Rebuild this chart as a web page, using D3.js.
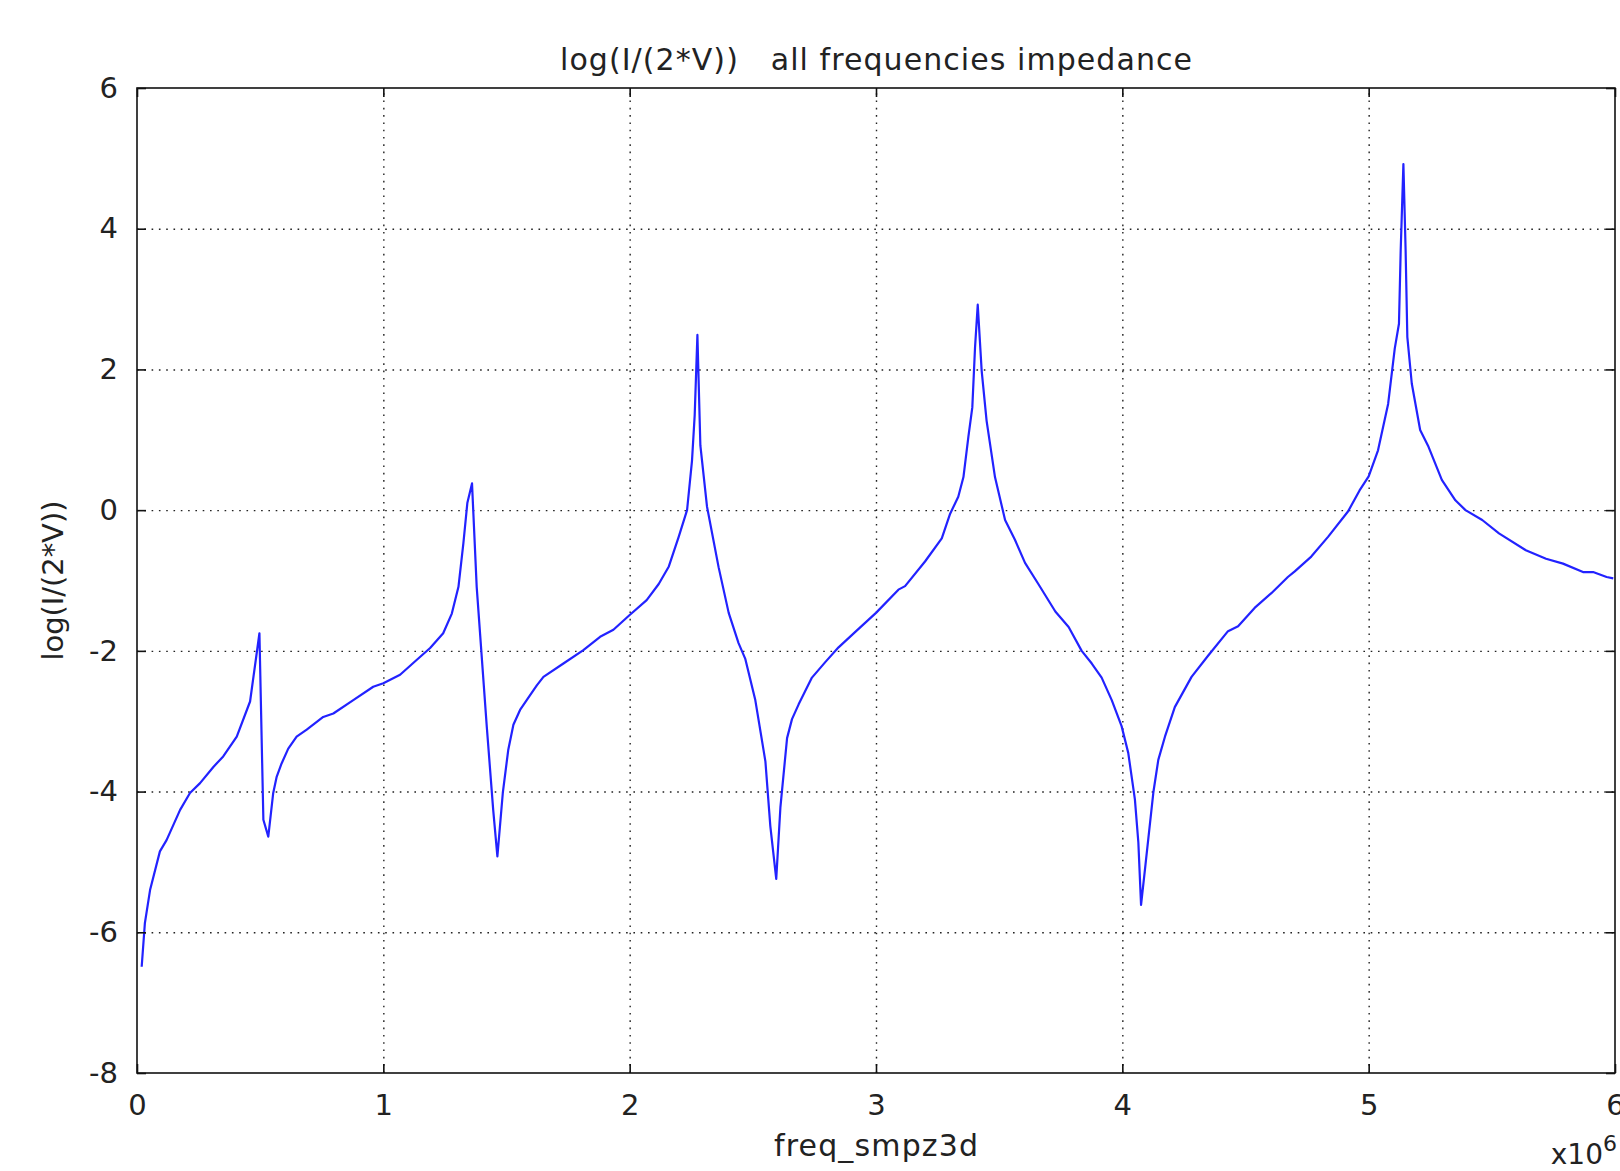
<!DOCTYPE html>
<html>
<head>
<meta charset="utf-8">
<script src="https://cdn.jsdelivr.net/npm/d3@7"></script>
<style>
  body { margin: 0; background: #fff; }
  svg { display: block; }
  text { font-family: "DejaVu Sans", Verdana, sans-serif; fill: #222; }
  .grid line { stroke: #222; stroke-width: 1.4; stroke-dasharray: 1.6, 5.7; }
  .grid path { display: none; }
  .ticks path { display: none; }
  .ticks line { stroke: #111; stroke-width: 1.6; }
</style>
</head>
<body>
<svg id="chart" width="1620" height="1171"></svg>
<script>
// frequency in units of 10^6 (freq_smpz3d)
const freq = [
  0.019, 0.032, 0.053, 0.093, 0.12, 0.175, 0.215, 0.256, 0.31, 0.35,
  0.405, 0.459, 0.497, 0.513, 0.533, 0.553, 0.567, 0.587, 0.614, 0.648,
  0.689, 0.756, 0.797, 0.878, 0.959, 1.0, 1.068, 1.135, 1.19, 1.243,
  1.278, 1.305, 1.325, 1.341, 1.36, 1.379, 1.42, 1.446, 1.463, 1.485,
  1.507, 1.528, 1.555, 1.582, 1.623, 1.65, 1.731, 1.812, 1.88, 1.934,
  2.0, 2.069, 2.118, 2.159, 2.199, 2.233, 2.253, 2.264, 2.275, 2.287,
  2.314, 2.361, 2.402, 2.442, 2.469, 2.51, 2.551, 2.571, 2.595, 2.612,
  2.639, 2.659, 2.686, 2.74, 2.794, 2.848, 2.916, 3.0, 3.091, 3.118,
  3.199, 3.267, 3.301, 3.334, 3.355, 3.375, 3.391, 3.402, 3.413, 3.429,
  3.449, 3.483, 3.524, 3.564, 3.605, 3.659, 3.728, 3.782, 3.835, 3.876,
  3.916, 3.957, 3.997, 4.024, 4.051, 4.065, 4.076, 4.094, 4.126, 4.146,
  4.173, 4.213, 4.281, 4.348, 4.429, 4.47, 4.537, 4.605, 4.672, 4.7,
  4.767, 4.835, 4.916, 4.963, 5.0, 5.038, 5.079, 5.106, 5.123, 5.13,
  5.141, 5.15, 5.157, 5.175, 5.209, 5.243, 5.297, 5.352, 5.393, 5.461,
  5.529, 5.638, 5.72, 5.789, 5.87, 5.911, 5.966, 5.993
];
const logIV = [
  -6.49, -5.87, -5.40, -4.85, -4.69, -4.26, -4.02, -3.88, -3.65, -3.50,
  -3.22, -2.72, -1.75, -4.40, -4.64, -4.02, -3.79, -3.60, -3.39, -3.22,
  -3.12, -2.94, -2.89, -2.70, -2.51, -2.46, -2.34, -2.13, -1.96, -1.75,
  -1.47, -1.09, -0.47, 0.10, 0.38, -1.09, -3.08, -4.26, -4.92, -4.02,
  -3.41, -3.05, -2.84, -2.70, -2.49, -2.37, -2.18, -1.99, -1.80, -1.70,
  -1.49, -1.28, -1.05, -0.80, -0.38, 0.0, 0.70, 1.35, 2.49, 0.92,
  0.05, -0.81, -1.46, -1.89, -2.11, -2.70, -3.57, -4.49, -5.24, -4.22,
  -3.24, -2.97, -2.76, -2.38, -2.16, -1.95, -1.73, -1.46, -1.13, -1.08,
  -0.73, -0.40, -0.05, 0.19, 0.47, 1.04, 1.46, 2.31, 2.92, 1.98,
  1.27, 0.47, -0.14, -0.42, -0.75, -1.05, -1.44, -1.66, -2.0, -2.18,
  -2.38, -2.70, -3.07, -3.45, -4.11, -4.72, -5.61, -5.04, -4.01, -3.55,
  -3.22, -2.80, -2.37, -2.07, -1.72, -1.65, -1.39, -1.18, -0.95, -0.87,
  -0.66, -0.38, -0.02, 0.28, 0.48, 0.85, 1.51, 2.30, 2.65, 3.69,
  4.92, 3.69, 2.46, 1.80, 1.14, 0.90, 0.43, 0.14, 0.0, -0.14,
  -0.33, -0.57, -0.69, -0.76, -0.88, -0.88, -0.95, -0.97
];
const xTicks = [0, 1, 2, 3, 4, 5, 6];
const yTicks = [-8, -6, -4, -2, 0, 2, 4, 6];

const svg = d3.select("#chart");
const pLeft = 137, pRight = 1615, pTop = 88, pBottom = 1073;
const w = pRight - pLeft, h = pBottom - pTop;

const x = d3.scaleLinear().domain([0, 6]).range([pLeft, pRight]);
const y = d3.scaleLinear().domain([-8, 6]).range([pBottom, pTop]);
const plain = d => String(d);  // "-8" with a hyphen, "0" not "0.0"

// dotted grid
svg.append("g").attr("class", "grid")
  .attr("transform", `translate(0,${pBottom})`)
  .call(d3.axisBottom(x).tickValues(xTicks.slice(1, -1)).tickSize(-h).tickFormat(""));
svg.append("g").attr("class", "grid")
  .attr("transform", `translate(${pLeft},0)`)
  .call(d3.axisLeft(y).tickValues(yTicks.slice(1, -1)).tickSize(-w).tickFormat(""));

// the curve
const pts = freq.map((f, i) => [f, logIV[i]]);
const line = d3.line().x(d => x(d[0])).y(d => y(d[1]));
svg.append("path")
  .datum(pts)
  .attr("d", line)
  .attr("fill", "none")
  .attr("stroke", "#2222ff")
  .attr("stroke-width", 2.2)
  .attr("stroke-linejoin", "round");

// frame
svg.append("rect")
  .attr("x", pLeft).attr("y", pTop).attr("width", w).attr("height", h)
  .attr("fill", "none").attr("stroke", "#111").attr("stroke-width", 1.6);

// inward ticks on all four sides, labels left and bottom
const bx = svg.append("g").attr("class", "ticks")
  .attr("transform", `translate(0,${pBottom})`)
  .call(d3.axisBottom(x).tickValues(xTicks).tickSize(-9).tickPadding(21).tickFormat(plain));
bx.selectAll("text").style("font-size", "29px").attr("dy", "0.72em");

const ly = svg.append("g").attr("class", "ticks")
  .attr("transform", `translate(${pLeft},0)`)
  .call(d3.axisLeft(y).tickValues(yTicks).tickSize(-9).tickPadding(19).tickFormat(plain));
ly.selectAll("text").style("font-size", "29px");

svg.append("g").attr("class", "ticks")
  .attr("transform", `translate(0,${pTop})`)
  .call(d3.axisTop(x).tickValues(xTicks).tickSize(-9).tickFormat(""));
svg.append("g").attr("class", "ticks")
  .attr("transform", `translate(${pRight},0)`)
  .call(d3.axisRight(y).tickValues(yTicks).tickSize(-9).tickFormat(""));

// title and axis labels
svg.append("text")
  .attr("x", (pLeft + pRight) / 2).attr("y", 70)
  .attr("text-anchor", "middle")
  .attr("xml:space", "preserve")
  .style("white-space", "pre")
  .style("font-size", "30px")
  .attr("textLength", 632)
  .attr("lengthAdjust", "spacing")
  .text("log(I/(2*V))   all frequencies impedance");

svg.append("text")
  .attr("x", (pLeft + pRight) / 2).attr("y", 1156)
  .attr("text-anchor", "middle")
  .style("font-size", "30px")
  .attr("textLength", 204)
  .attr("lengthAdjust", "spacing")
  .text("freq_smpz3d");

svg.append("text")
  .attr("transform", `translate(63,${(pTop + pBottom) / 2}) rotate(-90)`)
  .attr("text-anchor", "middle")
  .style("font-size", "29px")
  .attr("textLength", 160)
  .attr("lengthAdjust", "spacing")
  .text("log(I/(2*V))");

svg.append("text")
  .attr("x", 1603).attr("y", 1164)
  .attr("text-anchor", "end")
  .style("font-size", "28px")
  .text("x10");
svg.append("text")
  .attr("x", 1603).attr("y", 1151)
  .style("font-size", "22px")
  .text("6");
</script>
</body>
</html>
